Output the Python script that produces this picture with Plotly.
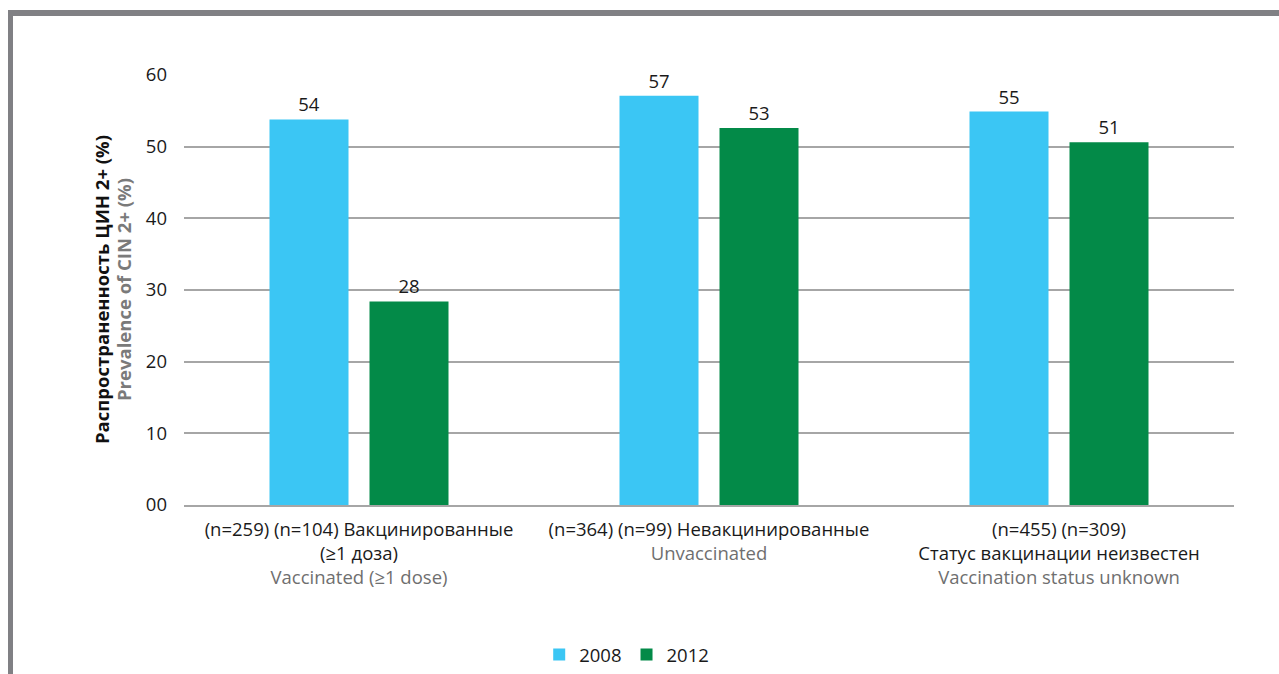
import plotly.graph_objects as go

categories = [
    "(n=259) (n=104) Вакцинированные<br>(≥1 доза)<br><span style='color:#6f6f6f'>Vaccinated (≥1 dose)</span>",
    "(n=364) (n=99) Невакцинированные<br><span style='color:#6f6f6f'>Unvaccinated</span>",
    "(n=455) (n=309)<br>Статус вакцинации неизвестен<br><span style='color:#6f6f6f'>Vaccination status unknown</span>",
]
cat_keys = ["vac", "unvac", "unknown"]
series_names = ["2008", "2012"]
values_2008 = [53.8, 57.1, 54.9]
values_2012 = [28.4, 52.6, 50.6]
tick_vals = [0, 10, 20, 30, 40, 50, 60]
tick_text = ["00", "10", "20", "30", "40", "50", "60"]

FONT = "Open Sans"
FS = 18.5
W, H = 1279, 674
L, R, T, B = 184, 45, 75, 169
PW, PH = W - L - R, H - T - B

def px_x(p):
    return (p - L) / PW

def px_y(p):
    return (H - B - p) / PH

fig = go.Figure()
fig.add_trace(go.Bar(x=cat_keys, y=values_2008, name=series_names[0],
                     marker=dict(color="#3bc6f4", line=dict(width=0)),
                     texttemplate="%{y:.0f}", textposition="outside",
                     textfont=dict(size=FS, color="#1a1a1a", family=FONT),
                     cliponaxis=False))
fig.add_trace(go.Bar(x=cat_keys, y=values_2012, name=series_names[1],
                     marker=dict(color="#038a48", line=dict(width=0)),
                     texttemplate="%{y:.0f}", textposition="outside",
                     textfont=dict(size=FS, color="#1a1a1a", family=FONT),
                     cliponaxis=False))

frame_color = "#808084"
fig.update_layout(
    width=W, height=H,
    margin=dict(l=L, r=R, t=T, b=B, pad=0),
    paper_bgcolor="white", plot_bgcolor="white",
    font=dict(family=FONT, size=FS, color="#1a1a1a"),
    barmode="group", bargap=0.4286, bargroupgap=0.21,
    showlegend=True,
    legend=dict(orientation="h", xref="container", yref="container",
                x=0.49, y=0.0, xanchor="center", yanchor="bottom",
                font=dict(size=FS, color="#1a1a1a", family=FONT),
                itemwidth=30, tracegroupgap=0, traceorder="normal"),
    shapes=[
        dict(type="rect", xref="paper", yref="paper",
             x0=px_x(8), x1=px_x(1280), y0=px_y(16), y1=px_y(10),
             fillcolor=frame_color, line=dict(width=0), layer="above"),
        dict(type="rect", xref="paper", yref="paper",
             x0=px_x(8), x1=px_x(13), y0=px_y(675), y1=px_y(10),
             fillcolor=frame_color, line=dict(width=0), layer="above"),
    ],
    annotations=[
        dict(xref="paper", yref="paper", x=px_x(101), y=0.5,
             text="<b>Распространенность ЦИН 2+ (%)</b>", textangle=-90,
             showarrow=False, font=dict(size=FS, color="#111111", family=FONT),
             xanchor="center", yanchor="middle"),
        dict(xref="paper", yref="paper", x=px_x(123), y=0.5,
             text="<b>Prevalence of CIN 2+ (%)</b>", textangle=-90,
             showarrow=False, font=dict(size=FS, color="#7a7a7a", family=FONT),
             xanchor="center", yanchor="middle"),
    ],
)
fig.update_xaxes(tickmode="array", tickvals=cat_keys, ticktext=categories,
                 showline=True, linecolor="#a6a6a6", linewidth=1.5,
                 ticks="", showgrid=False, tickfont=dict(size=FS, family=FONT, color="#1a1a1a"),
                 ticklabelstandoff=7)
fig.update_yaxes(range=[0, 60], tickmode="array", tickvals=tick_vals, ticktext=tick_text,
                 showgrid=True, gridcolor="#a6a6a6", gridwidth=1.5,
                 zeroline=False, showline=False, ticks="",
                 tickfont=dict(size=FS, family=FONT, color="#1a1a1a"),
                 ticklabelstandoff=16)

fig.write_html("out.html")
